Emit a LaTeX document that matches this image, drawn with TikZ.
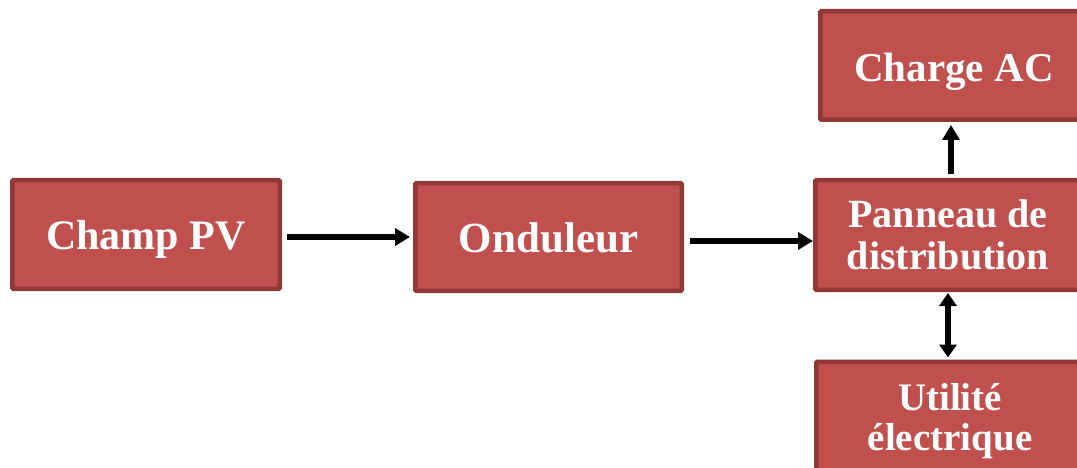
\documentclass[tikz,border=0pt]{standalone}
\usepackage{fontspec}
\setmainfont{Liberation Serif}
\usetikzlibrary{arrows.meta}
\definecolor{boxfill}{HTML}{C0504D}
\definecolor{boxline}{HTML}{8F3836}
\begin{document}
\begin{tikzpicture}[x=1pt,y=-1pt,
  blockbox/.style={draw=boxline,fill=boxfill,line width=4.5pt,rounded corners=1pt,
    text=white,font=\bfseries,align=center,inner sep=0pt},
  arr/.style={line width=5.5pt,-{Triangle[length=15pt,width=17pt]}},
  darr/.style={line width=5.5pt,{Triangle[length=13pt,width=17pt]}-{Triangle[length=13pt,width=17pt]}}]
\useasboundingbox (0,0) rectangle (1077,468);
\node[blockbox,minimum width=267.5pt,minimum height=108.5pt,text height=30pt,text depth=0pt,font=\bfseries\fontsize{42}{44}\selectfont] (pv) at (146,234.5) {Champ PV};
\node[blockbox,minimum width=266.5pt,minimum height=107.5pt,text height=30pt,text depth=0pt,font=\bfseries\fontsize{43}{44}\selectfont] (ond) at (548.5,237) {Onduleur};
\node[blockbox,minimum width=265.5pt,minimum height=109.5pt,font=\bfseries\fontsize{40}{42}\selectfont] (pan) at (948,235) {Panneau de\\distribution};
\node[blockbox,minimum width=267.5pt,minimum height=108.5pt,text height=33pt,text depth=0pt,font=\bfseries\fontsize{41}{44}\selectfont] (ch) at (954,65.5) {Charge AC};
\node[blockbox,minimum width=267.5pt,minimum height=108.5pt,font=\bfseries\fontsize{39}{40}\selectfont] (ut) at (950,416) {\rule{0pt}{37pt}Utilité\\électrique};
\draw[arr,shorten <=5pt,shorten >=3pt] (pv.east |- ond.west) -- (ond.west);
\draw[arr,shorten <=6pt,shorten >=0pt] ([yshift=-4pt]ond.east) -- ([yshift=-4pt]ond.east -| pan.west);
\draw[arr,shorten <=4pt,shorten >=3pt] ([xshift=3pt]pan.north) -- ([xshift=3pt]pan.north |- ch.south);
\draw[darr,shorten <=1pt,shorten >=2pt] (pan.south) -- (pan.south |- ut.north);
\end{tikzpicture}
\end{document}
